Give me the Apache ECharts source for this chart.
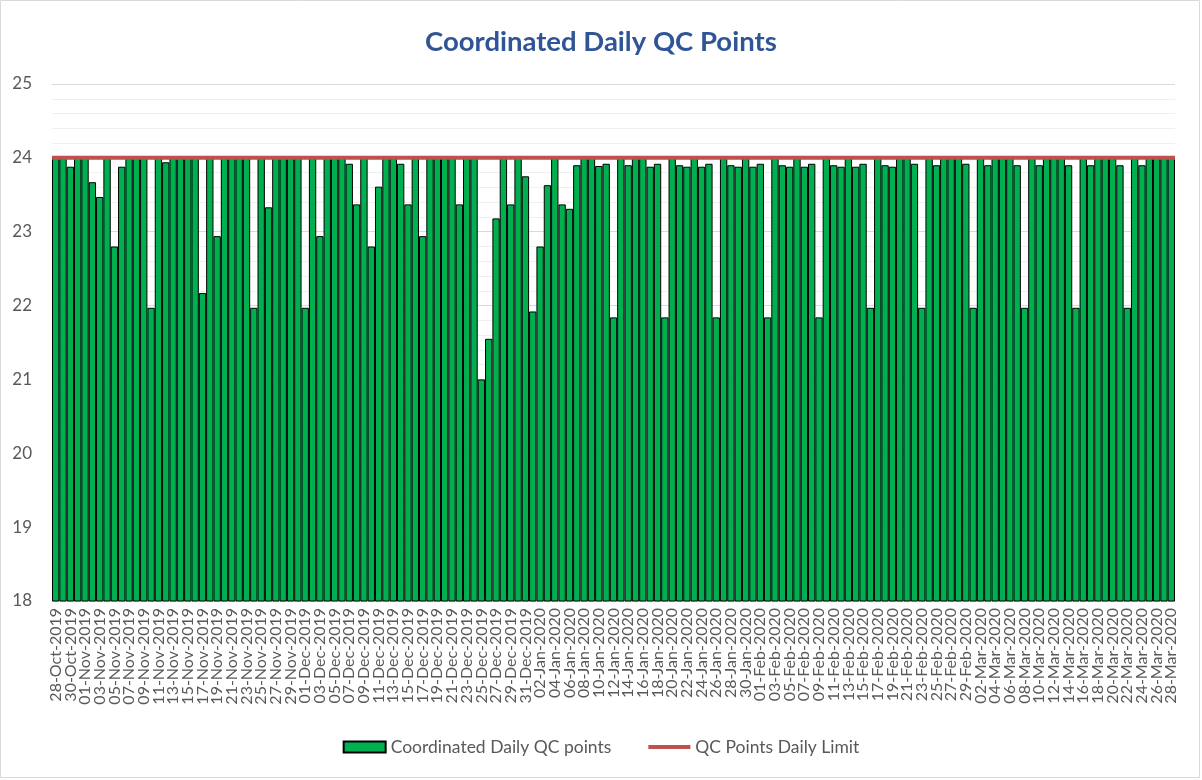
<!DOCTYPE html>
<html>
<head>
<meta charset="utf-8">
<script src="https://cdn.jsdelivr.net/npm/echarts@6/dist/echarts.min.js"></script>
<style>
html,body{margin:0;padding:0;background:#fff;}
#chart{width:1202px;height:780px;}
</style>
</head>
<body>
<div id="chart"></div>
<script>
// ---- data ----
const startDate = [2019, 9, 28]; // 28-Oct-2019 (month index 0-based)
const dayCount = 153;            // through 28-Mar-2020
const monthNames = ['Jan','Feb','Mar','Apr','May','Jun','Jul','Aug','Sep','Oct','Nov','Dec'];
const categories = [];
for (let i = 0; i < dayCount; i++) {
  const d = new Date(Date.UTC(startDate[0], startDate[1], startDate[2] + i));
  const dd = String(d.getUTCDate()).padStart(2, '0');
  categories.push(dd + '-' + monthNames[d.getUTCMonth()] + '-' + d.getUTCFullYear());
}
const labelStep = 2; // every other date is labelled
const qcPoints = [
  24, 24, 23.88, 24, 24, 23.67, 23.47, 24, 22.80, 23.88,
  24, 24, 24, 21.97, 24, 23.94, 24, 24, 24, 24,
  22.17, 24, 22.94, 24, 24, 24, 24, 21.97, 24, 23.33,
  24, 24, 24, 24, 21.97, 24, 22.94, 24, 24, 24,
  23.92, 23.37, 24, 22.80, 23.61, 24, 24, 23.92, 23.37, 24,
  22.94, 24, 24, 24, 24, 23.37, 24, 24, 21.00, 21.55,
  23.18, 24, 23.37, 24, 23.75, 21.92, 22.80, 23.63, 24, 23.37,
  23.31, 23.90, 24, 24, 23.89, 23.92, 21.84, 24, 23.90, 24,
  24, 23.88, 23.92, 21.84, 24, 23.90, 23.88, 24, 23.88, 23.92,
  21.84, 24, 23.90, 23.88, 24, 23.88, 23.92, 21.84, 24, 23.90,
  23.88, 24, 23.88, 23.92, 21.84, 24, 23.90, 23.88, 24, 23.88,
  23.92, 21.97, 24, 23.90, 23.88, 24, 24, 23.92, 21.97, 24,
  23.90, 24, 24, 24, 23.92, 21.97, 24, 23.90, 24, 24,
  24, 23.90, 21.97, 24, 23.90, 24, 24, 24, 23.90, 21.97,
  24, 23.90, 24, 24, 24, 23.90, 21.97, 24, 23.90, 24,
  24, 24, 24
];
const dailyLimit = categories.map(() => 24);
const yTicks = { min: 18, max: 25, interval: 1 };

// ---- chart ----
const chart = echarts.init(document.getElementById('chart'));
const FONT = 'Lato';
const TEXT = '#595959';
chart.setOption({
  animation: false,
  backgroundColor: '#ffffff',
  graphic: [{
    type: 'rect',
    shape: { x: 0.5, y: 0.5, width: 1199, height: 777 },
    style: { fill: 'none', stroke: '#D9D9D9', lineWidth: 1 },
    silent: true
  }],
  title: {
    text: 'Coordinated Daily QC Points',
    left: 420,
    top: 23,
    textStyle: { fontFamily: FONT, fontWeight: 'bold', fontSize: 27.5, color: '#2F5597' }
  },
  legend: {
    bottom: 19,
    left: 'center',
    itemGap: 37,
    itemWidth: 42,
    itemHeight: 11,
    textStyle: { fontFamily: FONT, fontSize: 17.5, color: TEXT },
    data: [
      { name: 'Coordinated Daily QC points', icon: 'rect' },
      { name: 'QC Points Daily Limit', icon: 'path://M0,0h42v4h-42z' }
    ]
  },
  grid: { left: 52, right: 27, top: 84, bottom: 179, containLabel: false },
  xAxis: [{
    type: 'category',
    data: categories,
    boundaryGap: true,
    axisLine: { show: true, lineStyle: { color: '#D9D9D9' } },
    axisTick: { show: false },
    axisLabel: {
      interval: 0,
      formatter: (value, index) => (index % labelStep === 0 ? value : ''),
      rotate: 90,
      margin: 7,
      hideOverlap: false,
      fontFamily: FONT,
      fontSize: 16,
      color: TEXT
    }
  }, {
    type: 'category',
    data: categories,
    boundaryGap: false,
    show: false
  }],
  yAxis: {
    type: 'value',
    min: yTicks.min,
    max: yTicks.max,
    interval: yTicks.interval,
    axisLine: { show: false },
    axisTick: { show: false },
    axisLabel: { fontFamily: FONT, fontSize: 17, color: TEXT, margin: 20 },
    splitLine: { show: true, lineStyle: { color: '#D9D9D9', width: 1 } },
    minorTick: { show: false, splitNumber: 5 },
    minorSplitLine: { show: true, lineStyle: { color: '#EFEFEF', width: 1 } }
  },
  series: [{
    name: 'Coordinated Daily QC points',
    type: 'bar',
    xAxisIndex: 0,
    data: qcPoints,
    barCategoryGap: '0%',
    itemStyle: { color: '#00B050', borderColor: '#000000', borderWidth: 1 }
  }, {
    name: 'QC Points Daily Limit',
    type: 'line',
    xAxisIndex: 1,
    data: dailyLimit,
    symbol: 'none',
    lineStyle: { color: '#C0504D', width: 4 },
    itemStyle: { color: '#C0504D' },
    z: 5
  }]
});
</script>
</body>
</html>
